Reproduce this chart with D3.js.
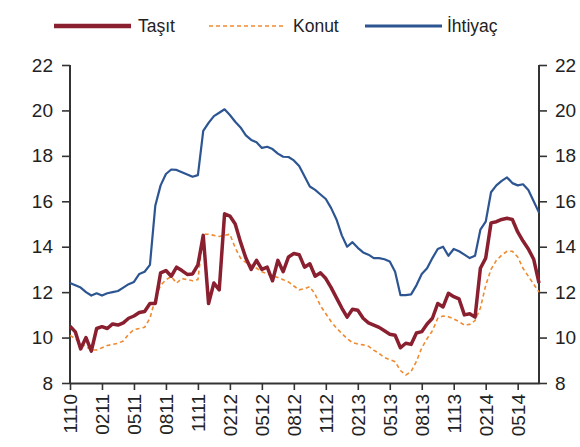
<!DOCTYPE html>
<html>
<head>
<meta charset="utf-8">
<script src="https://cdn.jsdelivr.net/npm/d3@7"></script>
<style>
  body { margin: 0; background: #fff; }
  svg text { font-family: "Liberation Sans", Arial, sans-serif; fill: #222; }
</style>
</head>
<body>
<svg id="chart"></svg>
<script>
// semi-monthly readings, starting Nov 2010 (x in months from 1110)
var tasit = [10.5, 10.25, 9.5, 10.0, 9.4, 10.4, 10.48, 10.4, 10.6, 10.55,
  10.65, 10.85, 10.95, 11.1, 11.15, 11.5, 11.5, 12.85, 12.95, 12.7,
  13.1, 12.95, 12.78, 12.8, 13.2, 14.5, 11.5, 12.4, 12.1, 15.45,
  15.35, 15.0, 14.2, 13.5, 13.0, 13.4, 13.0, 13.1, 12.5, 13.4,
  12.9, 13.55, 13.7, 13.65, 13.1, 13.25, 12.7, 12.85, 12.6, 12.2,
  11.75, 11.3, 10.9, 11.25, 11.2, 10.85, 10.65, 10.55, 10.45, 10.3,
  10.15, 10.1, 9.55, 9.75, 9.7, 10.2, 10.26, 10.6, 10.85, 11.5,
  11.35, 11.95, 11.8, 11.7, 11.0, 11.05, 10.9, 13.05, 13.5, 15.05,
  15.1, 15.2, 15.25, 15.2, 14.65, 14.25, 13.9, 13.45, 12.4];

var konut = [10.1, 9.95, 9.75, 9.6, 9.45, 9.45, 9.55, 9.65, 9.7, 9.75,
  9.85, 10.15, 10.35, 10.4, 10.45, 10.85, 11.7, 12.3, 12.55, 12.68,
  12.4, 12.6, 12.55, 12.5, 12.55, 14.55, 14.55, 14.5, 14.45, 14.5,
  14.55, 13.95, 13.5, 13.3, 13.2, 13.05, 12.9, 12.8, 12.72, 12.65,
  12.55, 12.45, 12.27, 12.1, 12.15, 12.24, 11.9, 11.4, 11.05, 10.7,
  10.42, 10.18, 9.95, 9.78, 9.72, 9.68, 9.62, 9.45, 9.3, 9.12,
  9.03, 8.94, 8.55, 8.35, 8.5, 8.95, 9.55, 9.95, 10.3, 10.85,
  10.95, 10.92, 10.82, 10.7, 10.55, 10.58, 10.75, 11.3, 12.3, 13.0,
  13.4, 13.63, 13.8, 13.8, 13.55, 13.05, 12.7, 12.35, 12.0];

var ihtiyac = [12.4, 12.3, 12.2, 12.0, 11.85, 11.95, 11.85, 11.95, 12.0, 12.05,
  12.2, 12.35, 12.45, 12.8, 12.9, 13.2, 15.8, 16.7, 17.2, 17.4,
  17.38, 17.28, 17.18, 17.08, 17.15, 19.1, 19.45, 19.75, 19.9, 20.05,
  19.8, 19.5, 19.25, 18.9, 18.7, 18.6, 18.35, 18.4, 18.3, 18.1,
  17.96, 17.95, 17.8, 17.55, 17.1, 16.65, 16.5, 16.3, 16.1, 15.7,
  15.2, 14.5, 14.0, 14.2, 13.95, 13.75, 13.65, 13.5, 13.5, 13.45,
  13.35, 12.9, 11.87, 11.87, 11.9, 12.3, 12.8, 13.05, 13.5, 13.9,
  14.0, 13.6, 13.9, 13.8, 13.65, 13.5, 13.6, 14.75, 15.1, 16.4,
  16.7, 16.9, 17.05, 16.8, 16.7, 16.75, 16.5, 16.0, 15.5];

var tickLabels = ["1110", "0211", "0511", "0811", "1111", "0212", "0512", "0812",
  "1112", "0213", "0513", "0813", "1113", "0214", "0514"];
var yTicks = [8, 10, 12, 14, 16, 18, 20, 22];

var seriesNames = ["Taşıt", "Konut", "İhtiyaç"];
var seriesColors = ["#8a1f2f", "#f08a30", "#2c5592"];

var W = 580, H = 447;
var margin = { top: 65, right: 41, bottom: 64, left: 70 },
    width = W - margin.left - margin.right,
    height = H - margin.top - margin.bottom;

var svg = d3.select("#chart").attr("width", W).attr("height", H);
var g = svg.append("g").attr("transform", `translate(${margin.left}, ${margin.top})`);

var xScale = d3.scaleLinear().domain([0, (tasit.length - 1) / 2]).range([0, width]);
var yScale = d3.scaleLinear().domain([8, 22]).range([height, 0]);

// axes
var yLeft = g.append("g")
    .call(d3.axisLeft(yScale).tickValues(yTicks).tickSize(8).tickPadding(9));
var yRight = g.append("g")
    .attr("transform", `translate(${width}, 0)`)
    .call(d3.axisRight(yScale).tickValues(yTicks).tickSize(8).tickPadding(8));
var xAxis = g.append("g")
    .attr("transform", `translate(0, ${height})`)
    .call(d3.axisBottom(xScale)
        .tickValues(tickLabels.map((d, i) => i * 3))
        .tickFormat((d, i) => tickLabels[i])
        .tickSize(7).tickSizeOuter(0));

[yLeft, yRight, xAxis].forEach(a => {
    a.select(".domain").attr("stroke", "#333").attr("stroke-width", 2);
    a.selectAll(".tick line").attr("stroke", "#333").attr("stroke-width", 1.6);
    a.selectAll("text").style("font-size", "19px").attr("fill", "#222");
});
yLeft.select(".domain").attr("d", `M0,0V${height}`);
yRight.select(".domain").attr("d", `M0,0V${height}`);

xAxis.selectAll("text")
    .attr("transform", "rotate(-90)")
    .attr("text-anchor", "end")
    .attr("dy", "0.35em")
    .attr("x", -11)
    .attr("y", 0);

// lines
var line = d3.line()
    .x((d, i) => xScale(i / 2))
    .y(d => yScale(d));

g.append("path").datum(konut)
    .attr("fill", "none")
    .attr("stroke", seriesColors[1])
    .attr("stroke-width", 1.6)
    .attr("stroke-dasharray", "4,3")
    .attr("d", line);

g.append("path").datum(tasit)
    .attr("fill", "none")
    .attr("stroke", seriesColors[0])
    .attr("stroke-width", 3.5)
    .attr("stroke-linejoin", "round")
    .attr("d", line);

g.append("path").datum(ihtiyac)
    .attr("fill", "none")
    .attr("stroke", seriesColors[2])
    .attr("stroke-width", 2.2)
    .attr("stroke-linejoin", "round")
    .attr("d", line);

// legend
var legendX = [54, 209, 365];
var legend = svg.append("g");
seriesNames.forEach((name, i) => {
    var lg = legend.append("g").attr("transform", `translate(${legendX[i]}, 26)`);
    lg.append("line")
        .attr("x1", 0).attr("x2", 77)
        .attr("stroke", seriesColors[i])
        .attr("stroke-width", i === 0 ? 4.5 : i === 2 ? 3 : 1.6)
        .attr("stroke-dasharray", i === 1 ? "4,3" : null);
    lg.append("text")
        .attr("x", i === 2 ? 82 : 84)
        .attr("y", 6)
        .style("font-size", "17.5px")
        .text(name);
});
</script>
</body>
</html>
